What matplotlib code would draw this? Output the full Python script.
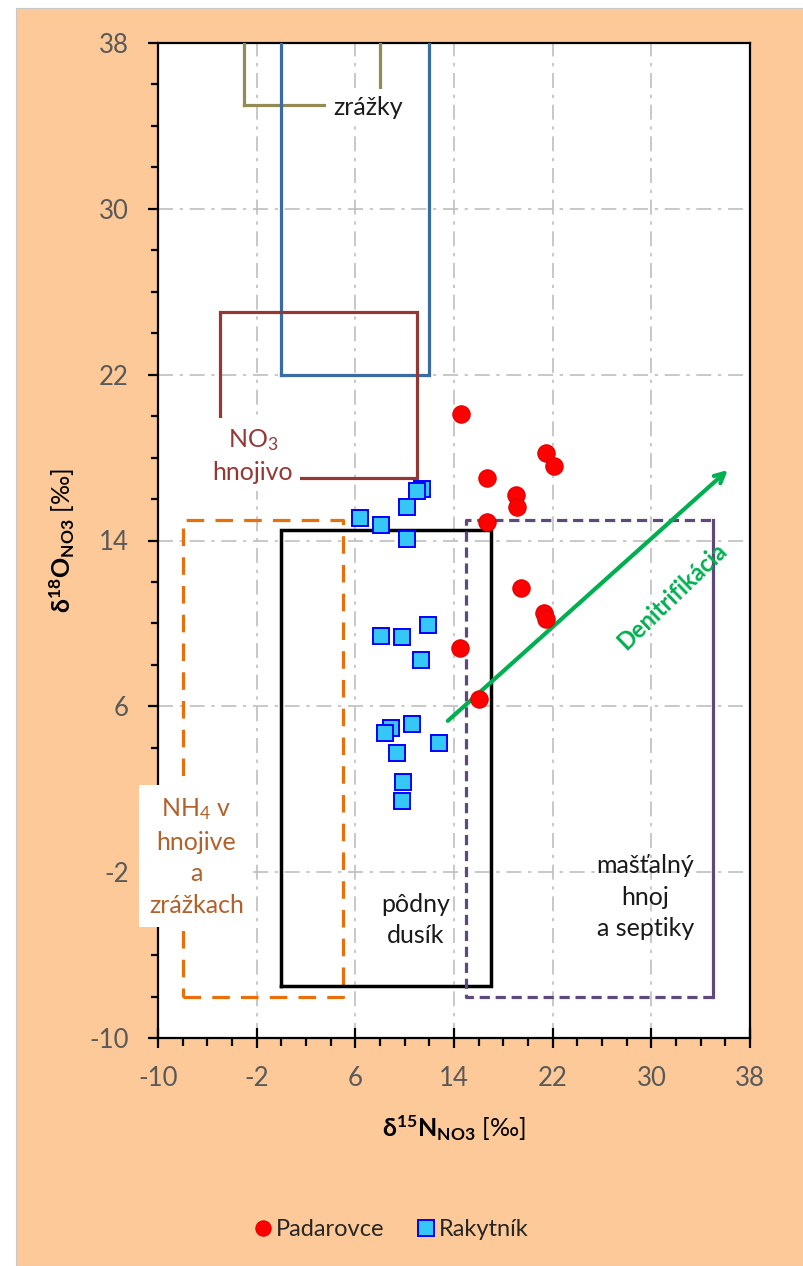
import matplotlib
matplotlib.use("Agg")
import matplotlib.pyplot as plt
from matplotlib.patches import Rectangle
from matplotlib.ticker import MultipleLocator
from matplotlib.lines import Line2D

plt.rcParams['font.family'] = ['Lato', 'DejaVu Sans']
plt.rcParams['mathtext.fontset'] = 'custom'
plt.rcParams['mathtext.rm'] = 'Lato'
plt.rcParams['mathtext.it'] = 'Lato:italic'
plt.rcParams['mathtext.bf'] = 'Lato:bold'
plt.rcParams['mathtext.sf'] = 'Lato'
plt.rcParams['axes.unicode_minus'] = False

# measured values (d15N, d18O) in permil
pad_x = [14.6, 21.5, 22.1, 16.7, 19.0, 19.1, 16.7, 19.4, 21.3, 21.5, 14.5, 16.0]
pad_y = [20.1, 18.2, 17.6, 17.0, 16.2, 15.6, 14.9, 11.7, 10.5, 10.2, 8.8, 6.35]

rak_x = [11.4, 11.0, 10.2, 6.4, 8.1, 10.2, 11.9, 8.1, 9.8, 11.3,
         8.9, 10.6, 8.4, 12.8, 9.4, 9.9, 9.8]
rak_y = [16.5, 16.4, 15.6, 15.1, 14.75, 14.05, 9.9, 9.4, 9.35, 8.25,
         4.95, 5.15, 4.7, 4.25, 3.75, 2.35, 1.45]

# source zones: (x0, x1, y0, y1)
zrazky_box = (-3, 8, 35, 41)
atm_no3_box = (0, 12, 22, 41)
no3_fert_box = (-5, 11, 17, 25)
nh4_box = (-8, 5, -8, 15)
soil_box = (0, 17, -7.5, 14.5)
manure_box = (15, 35, -8, 15)

# denitrification trend: start and end
denit_arrow = [(13.5, 5.3), (36.2, 17.4)]

ticks = [-10, -2, 6, 14, 22, 30, 38]

fig = plt.figure(figsize=(8.04, 12.66), dpi=100)
fig.patch.set_facecolor('white')
fig.patches.append(Rectangle((16 / 804, 0), 1 - 16 / 804, 1 - 8 / 1266,
                             transform=fig.transFigure, facecolor='#FDC998',
                             edgecolor='#C8C8C8', lw=0.8, zorder=-10))

ax = fig.add_axes([158 / 804, 1 - 1038 / 1266, 592 / 804, 995 / 1266])
ax.set_xlim(-10, 38)
ax.set_ylim(-10, 38)
ax.set_xticks(ticks)
ax.set_yticks(ticks)
ax.xaxis.set_minor_locator(MultipleLocator(2))
ax.yaxis.set_minor_locator(MultipleLocator(2))
ax.set_axisbelow(True)
ax.grid(True, which='major', color='#BFBFBF', lw=1.2, linestyle=(0, (9, 4, 2, 4)))

for s in ax.spines.values():
    s.set_linewidth(1.6)
ax.tick_params(axis='x', which='major', direction='inout', length=14, width=1.6,
               labelsize=18.5, labelcolor='#595959', pad=13)
ax.tick_params(axis='x', which='minor', direction='out', length=6, width=1.6)
ax.tick_params(axis='y', which='major', direction='out', length=7, width=1.6,
               labelsize=18.5, labelcolor='#595959', pad=14)
ax.tick_params(axis='y', which='minor', direction='out', length=5, width=1.6)


def box(b, color, ls='-', lw=2.3, z=3):
    x0, x1, y0, y1 = b
    ax.plot([x0, x1, x1, x0, x0], [y0, y0, y1, y1, y0], color=color, ls=ls,
            lw=lw, zorder=z, solid_joinstyle='miter', dash_capstyle='butt')


box(zrazky_box, '#948A54')
box(atm_no3_box, '#3A6CA3')
box(no3_fert_box, '#953735')
box(nh4_box, '#E8700A', ls=(0, (5.5, 3.5)))
box(soil_box, 'black', lw=2.5)
# manure zone: dashed, right side solid
mx0, mx1, my0, my1 = manure_box
ax.plot([mx1, mx0, mx0, mx1], [my0, my0, my1, my1], color='#5F497A',
        ls=(0, (3.2, 1.8)), lw=2.3, zorder=3)
ax.plot([mx1, mx1], [my0, my1], color='#5F497A', lw=2.3, zorder=3)

ax.annotate('', xy=denit_arrow[1], xytext=denit_arrow[0],
            arrowprops=dict(arrowstyle='->,head_length=0.7,head_width=0.35',
                            color='#00B050', lw=3, shrinkA=0, shrinkB=0),
            zorder=4)
ax.text(31.7, 11.3, 'Denitrifikácia', color='#00B050', fontsize=17,
        fontweight='bold', rotation=44, ha='center', va='center',
        rotation_mode='anchor', zorder=4)

wbox = dict(facecolor='white', edgecolor='none', pad=5)
ax.text(7.0, 34.9, 'zrážky', fontsize=18, color='#1A1A1A', ha='center',
        va='center', bbox=wbox, zorder=5)
ax.text(-2.3, 18.1, 'NO$_3$\nhnojivo', fontsize=18, color='#953735',
        ha='center', va='center', linespacing=1.45, bbox=wbox, zorder=5)
ax.text(-6.9, -1.25, 'NH$_4$ v\nhnojive\na\nzrážkach', fontsize=18,
        color='#B2612A', ha='center', va='center', linespacing=1.45,
        bbox=dict(facecolor='white', edgecolor='none', pad=7), zorder=5)
ax.text(10.9, -4.3, 'pôdny\ndusík', fontsize=18, color='#1A1A1A',
        ha='center', va='center', linespacing=1.45, zorder=5)
ax.text(29.5, -3.2, 'mašťalný\nhnoj\na septiky', fontsize=18, color='#1A1A1A',
        ha='center', va='center', linespacing=1.45, zorder=5)

ax.plot(rak_x, rak_y, ls='none', marker='s', ms=11.5, mfc='#35C8F6',
        mec='#0000FF', mew=1.4, zorder=6, label='Rakytník')
ax.plot(pad_x, pad_y, ls='none', marker='o', ms=12.5, mfc='#FF0000',
        mec='#E00000', mew=0.8, zorder=7, label='Padarovce')

ax.set_xlabel(r'$\mathbf{\delta^{15}N_{NO3}}$ [‰]', fontsize=18, color='black',
              labelpad=16)
ax.set_ylabel(r'$\mathbf{\delta^{18}O_{NO3}}$ [‰]', fontsize=18, color='black',
              labelpad=9)

handles = [Line2D([], [], ls='none', marker='o', ms=11, mfc='#FF0000',
                  mec='#E00000', mew=0.8),
           Line2D([], [], ls='none', marker='s', ms=11, mfc='#35C8F6',
                  mec='#0000FF', mew=1.4)]
fig.legend(handles, ['Padarovce', 'Rakytník'], loc='center',
           bbox_to_anchor=(392 / 804, 1 - 1230 / 1266), ncol=2, frameon=False,
           fontsize=17, handlelength=0.7, handletextpad=0.2, columnspacing=1.4,
           labelcolor='#262626')

fig.savefig('out.png', dpi=100, facecolor=fig.get_facecolor())
